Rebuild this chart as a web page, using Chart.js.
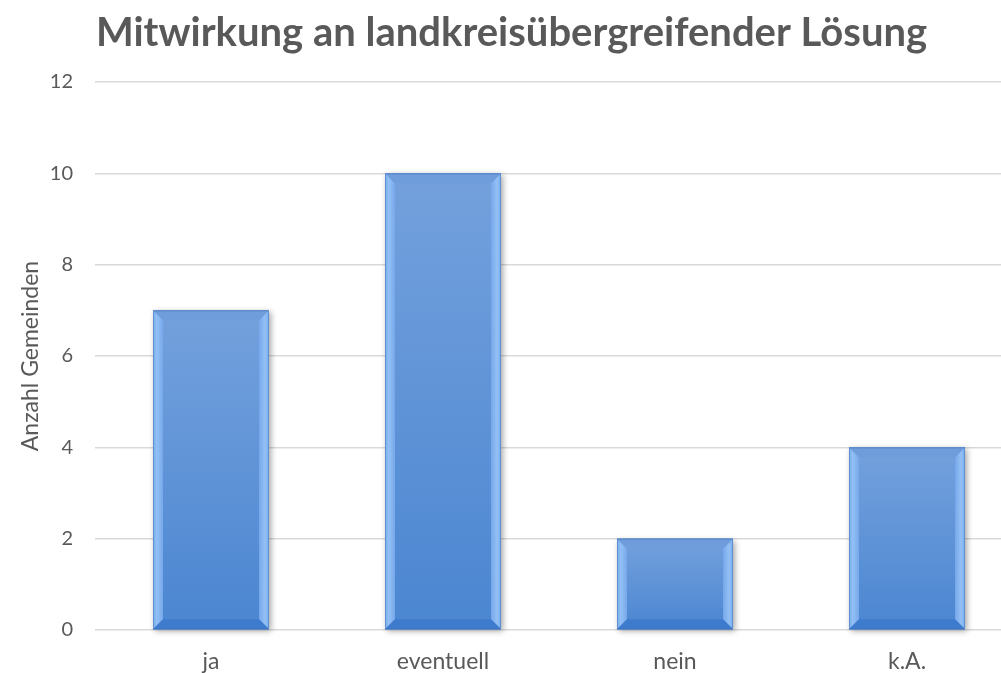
<!DOCTYPE html>
<html>
<head>
<meta charset="utf-8">
<script src="https://cdn.jsdelivr.net/npm/chart.js@4"></script>
<style>
  html, body { margin: 0; padding: 0; background: #fff; overflow: hidden; }
  #wrap { width: 1030px; height: 673px; }
</style>
</head>
<body>
<div id="wrap"><canvas id="chart"></canvas></div>
<script>
// Chart data
const categories = ['ja', 'eventuell', 'nein', 'k.A.'];
const counts = [7, 10, 2, 4];
const yTicks = [0, 2, 4, 6, 8, 10, 12];

const FONT = 'Lato, "Open Sans", sans-serif';
const TEXT = '#595959';

// Excel-like bevel drawn on top of each bar
const bevelPlugin = {
  id: 'bevel',
  beforeDatasetsDraw(chart) {
    const ctx = chart.ctx;
    chart.getDatasetMeta(0).data.forEach(bar => {
      const w = bar.width;
      const l = bar.x - w / 2, t = bar.y, h = bar.base - bar.y;
      ctx.save();
      ctx.shadowColor = 'rgba(0,0,0,0.35)';
      ctx.shadowBlur = 6;
      ctx.shadowOffsetX = 2;
      ctx.shadowOffsetY = 2;
      ctx.fillStyle = '#5b8fd6';
      ctx.fillRect(l, t, w, h);
      ctx.restore();
    });
  },
  afterDatasetsDraw(chart) {
    const ctx = chart.ctx;
    chart.getDatasetMeta(0).data.forEach(bar => {
      const w = bar.width;
      const L = bar.x - w / 2, R = bar.x + w / 2, T = bar.y, B = bar.base;
      const b = 10;
      ctx.save();
      // main face
      const g = ctx.createLinearGradient(0, T, 0, B);
      g.addColorStop(0, '#74a1dd');
      g.addColorStop(1, '#4b86d1');
      ctx.fillStyle = g;
      ctx.fillRect(L, T, w, B - T);
      // left & right edges
      const sideL = ctx.createLinearGradient(L, 0, L + b, 0);
      sideL.addColorStop(0, '#7aaeee');
      sideL.addColorStop(0.4, '#93c0f5');
      sideL.addColorStop(1, '#76a7ea');
      ctx.fillStyle = sideL;
      ctx.beginPath();
      ctx.moveTo(L, T); ctx.lineTo(L + b, T + b); ctx.lineTo(L + b, B - b); ctx.lineTo(L, B);
      ctx.closePath(); ctx.fill();
      const sideR = ctx.createLinearGradient(R, 0, R - b, 0);
      sideR.addColorStop(0, '#7aaeee');
      sideR.addColorStop(0.4, '#93c0f5');
      sideR.addColorStop(1, '#76a7ea');
      ctx.fillStyle = sideR;
      ctx.beginPath();
      ctx.moveTo(R, T); ctx.lineTo(R - b, T + b); ctx.lineTo(R - b, B - b); ctx.lineTo(R, B);
      ctx.closePath(); ctx.fill();
      // top edge
      ctx.fillStyle = '#6f9cda';
      ctx.beginPath();
      ctx.moveTo(L, T); ctx.lineTo(R, T); ctx.lineTo(R - b, T + b); ctx.lineTo(L + b, T + b);
      ctx.closePath(); ctx.fill();
      // bottom edge
      ctx.fillStyle = '#3f7bcc';
      ctx.beginPath();
      ctx.moveTo(L, B); ctx.lineTo(R, B); ctx.lineTo(R - b, B - b); ctx.lineTo(L + b, B - b);
      ctx.closePath(); ctx.fill();
      // thin outer edge lines
      ctx.strokeStyle = 'rgba(60,110,180,0.5)';
      ctx.lineWidth = 1;
      ctx.strokeRect(L + 0.5, T + 0.5, w - 1, B - T - 1);
      ctx.restore();
    });
  }
};

new Chart(document.getElementById('chart'), {
  type: 'bar',
  data: {
    labels: categories,
    datasets: [{
      label: 'Anzahl Gemeinden',
      data: counts,
      backgroundColor: '#5b8fd6',
      barPercentage: 0.5,
      categoryPercentage: 1
    }]
  },
  options: {
    responsive: true,
    maintainAspectRatio: false,
    animation: false,
    layout: { padding: { left: 0, right: 7, top: 0, bottom: 0 } },
    plugins: {
      legend: { display: false },
      tooltip: { enabled: false },
      title: {
        display: true,
        text: 'Mitwirkung an landkreisübergreifender Lösung',
        color: TEXT,
        font: { family: FONT, size: 40, weight: 'bold' },
        padding: { top: 9, bottom: 25 }
      }
    },
    scales: {
      x: {
        grid: { display: false },
        border: { display: false },
        ticks: { color: TEXT, font: { family: FONT, size: 23 }, padding: 10 },
        afterFit(scale) { scale.height = 43; }
      },
      y: {
        min: 0,
        max: 12,
        afterBuildTicks(scale) { scale.ticks = yTicks.map(v => ({ value: v })); },
        grid: { color: '#d9d9d9', lineWidth: 1.5, drawTicks: false },
        border: { display: false },
        ticks: { color: TEXT, font: { family: FONT, size: 20 }, padding: 22 },
        title: {
          display: true,
          text: 'Anzahl Gemeinden',
          color: TEXT,
          font: { family: FONT, size: 23 },
          padding: { top: 17, bottom: 0 }
        },
        afterFit(scale) { scale.width = 95; }
      }
    }
  },
  plugins: [bevelPlugin]
});
</script>
</body>
</html>
